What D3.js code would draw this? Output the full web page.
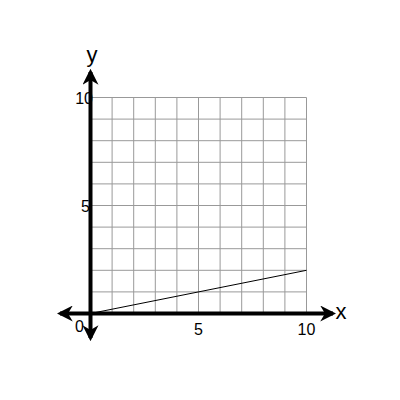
<!DOCTYPE html>
<html><head><meta charset="utf-8">
<script src="https://cdn.jsdelivr.net/npm/d3@7"></script>
<style>body{margin:0;background:#fff}</style>
</head><body><div id="chart"></div>
<script>
const gridTicks = d3.range(0, 11);
const tickLabels = [5, 10];
const lineData = [[0, 0], [10, 2]];

const svg = d3.select('#chart').append('svg')
    .attr('width', 400).attr('height', 400)
    .style('font', '16px Liberation Sans, Arial, sans-serif');

const x = d3.scaleLinear().domain([0, 10]).range([90.5, 306.5]);
const y = d3.scaleLinear().domain([0, 10]).range([313.5, 97.5]);

// grid
svg.selectAll('line.gx').data(gridTicks).join('line').classed('gx', true)
    .attr('x1', d => x(d)).attr('x2', d => x(d))
    .attr('y1', y(0)).attr('y2', y(10))
    .attr('stroke', '#999').attr('stroke-width', 1);
svg.selectAll('line.gy').data(gridTicks).join('line').classed('gy', true)
    .attr('y1', d => y(d)).attr('y2', d => y(d))
    .attr('x1', x(0)).attr('x2', x(10))
    .attr('stroke', '#999').attr('stroke-width', 1);

// data line
svg.append('path')
    .datum(lineData)
    .attr('d', d3.line().x(d => x(d[0])).y(d => y(d[1])))
    .attr('stroke', '#000').attr('stroke-width', 1).attr('fill', 'none');

// axes with arrows
svg.append('defs').append('marker')
    .attr('id', 'arr').attr('viewBox', '0 0 10 10')
    .attr('refX', 8).attr('refY', 5)
    .attr('markerWidth', 4).attr('markerHeight', 4)
    .attr('orient', 'auto-start-reverse')
    .append('path').attr('d', 'M0,0L10,5L0,10L3,5Z').attr('fill', '#000');

svg.append('line')
    .attr('x1', 60).attr('x2', 333).attr('y1', y(0)).attr('y2', y(0))
    .attr('stroke', '#000').attr('stroke-width', 4)
    .attr('marker-start', 'url(#arr)').attr('marker-end', 'url(#arr)');
svg.append('line')
    .attr('x1', x(0)).attr('x2', x(0)).attr('y1', 72).attr('y2', 338)
    .attr('stroke', '#000').attr('stroke-width', 4)
    .attr('marker-start', 'url(#arr)').attr('marker-end', 'url(#arr)');

// labels
svg.selectAll('text.xt').data(tickLabels).join('text').classed('xt', true)
    .attr('x', d => x(d)).attr('y', 335).attr('text-anchor', 'middle').text(d => d);
svg.selectAll('text.yt').data(tickLabels).join('text').classed('yt', true)
    .attr('x', d => d === 10 ? 93 : 90).attr('y', d => y(d) + 6).attr('text-anchor', 'end').text(d => d);
svg.append('text').attr('x', 84).attr('y', 332).attr('text-anchor', 'end').text('0');
svg.append('text').attr('x', 341).attr('y', 319).attr('text-anchor', 'middle')
    .style('font-size', '22px').text('x');
svg.append('text').attr('x', 92).attr('y', 62).attr('text-anchor', 'middle')
    .style('font-size', '22px').text('y');
</script></body></html>
